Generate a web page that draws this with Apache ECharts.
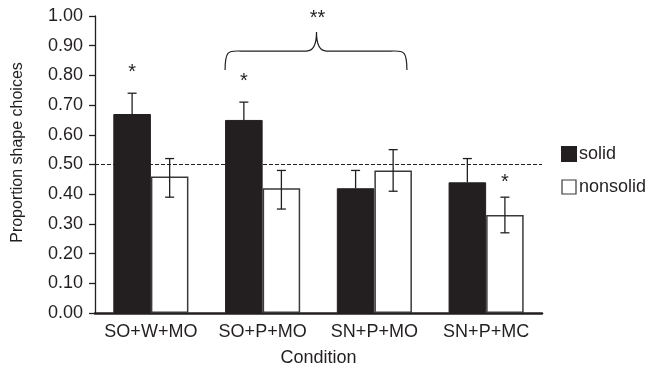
<!DOCTYPE html>
<html>
<head>
<meta charset="utf-8">
<script src="https://cdn.jsdelivr.net/npm/echarts@6/dist/echarts.min.js"></script>
<style>
  html, body { margin: 0; padding: 0; background: #fff; }
  #chart { width: 648px; height: 374px; }
</style>
</head>
<body>
<div id="chart"></div>
<script>
const conditions = ["SO+W+MO", "SO+P+MO", "SN+P+MO", "SN+P+MC"];
const solid = [0.67, 0.65, 0.42, 0.44];
const solidErrTop = [0.74, 0.71, 0.48, 0.52];
const nonsolid = [0.46, 0.42, 0.48, 0.33];
const nonsolidErrTop = [0.52, 0.48, 0.55, 0.39];
const nonsolidErrBottom = [0.39, 0.35, 0.41, 0.27];
const yTicks = [0, 0.1, 0.2, 0.3, 0.4, 0.5, 0.6, 0.7, 0.8, 0.9, 1.0];
const chanceLevel = 0.5;
// [category index, side (-1 solid, 1 nonsolid), y, text]
const stars = [[0, -1, 0.81, "*"], [1, -1, 0.78, "*"], [3, 1, 0.44, "*"]];
// brace from solid bar of SO+P+MO to nonsolid bar of SN+P+MO
const brace = { from: 1, to: 2, bottom: 0.818, top: 0.882, peak: 0.946, label: "**", labelY: 1.0 };

const ink = "#231f20";
const font = "Liberation Sans, Arial, sans-serif";
const barPct = 0.336;

const chart = echarts.init(document.getElementById("chart"), null, { renderer: "canvas" });

function errorBars(values, tops, bottoms, side) {
  return {
    type: "custom",
    silent: true,
    z: 5,
    data: values.map((v, i) => [i, v, tops[i], bottoms ? bottoms[i] : v]),
    renderItem: (params, api) => {
      const band = api.size([1, 0])[0];
      const x = api.coord([api.value(0), 0])[0] + side * band * barPct / 2;
      const yTop = api.coord([0, api.value(2)])[1];
      const yBot = api.coord([0, api.value(3)])[1];
      const cap = 4.5;
      const style = { stroke: ink, lineWidth: 1.3, fill: null };
      const children = [
        { type: "line", shape: { x1: x, y1: yTop, x2: x, y2: yBot }, style },
        { type: "line", shape: { x1: x - cap, y1: yTop, x2: x + cap, y2: yTop }, style },
      ];
      if (bottoms) {
        children.push({ type: "line", shape: { x1: x - cap, y1: yBot, x2: x + cap, y2: yBot }, style });
      }
      return { type: "group", children };
    },
  };
}

chart.setOption({
  animation: false,
  grid: { left: 95, right: 106, top: 16, bottom: 61 },
  legend: {
    orient: "vertical",
    left: 556,
    top: 140,
    itemWidth: 14,
    itemHeight: 14,
    itemGap: 15,
    textStyle: { fontFamily: font, fontSize: 18, color: ink, padding: [0, 0, 0, -2] },
    data: [
      { name: "solid", icon: "rect" },
      { name: "nonsolid", icon: "rect", itemStyle: { borderWidth: 1.2 } },
    ],
  },
  xAxis: {
    type: "category",
    data: conditions,
    name: "Condition",
    nameLocation: "middle",
    nameGap: 36,
    nameTextStyle: { fontFamily: font, fontSize: 18, color: ink },
    axisLine: { lineStyle: { color: ink, width: 2.5 } },
    axisTick: { alignWithLabel: true, length: 6, lineStyle: { color: ink, width: 1.3 } },
    axisLabel: { interval: 0, fontFamily: font, fontSize: 18, color: ink, margin: 10 },
  },
  yAxis: {
    type: "value",
    min: 0,
    max: 1,
    interval: 0.1,
    name: "Proportion shape choices",
    nameLocation: "middle",
    nameGap: 69,
    nameTextStyle: { fontFamily: font, fontSize: 16, color: ink, padding: [0, 0, 0, 24] },
    axisLine: { show: true, lineStyle: { color: ink, width: 1.3 } },
    axisTick: { show: true, length: 6, lineStyle: { color: ink, width: 1.3 } },
    axisLabel: {
      fontFamily: font,
      fontSize: 18,
      color: ink,
      margin: 12,
      formatter: (v) => (yTicks.some((t) => Math.abs(t - v) < 1e-6) ? v.toFixed(2) : ""),
    },
    splitLine: { show: false },
  },
  series: [
    {
      name: "solid",
      type: "bar",
      data: solid,
      barWidth: barPct * 100 + "%",
      barGap: "0%",
      itemStyle: { color: ink, borderColor: ink, borderWidth: 1 },
      markLine: {
        silent: true,
        symbol: "none",
        label: { show: false },
        lineStyle: { color: ink, type: [4, 2], width: 1 },
        data: [{ yAxis: chanceLevel }],
      },
    },
    {
      name: "nonsolid",
      type: "bar",
      data: nonsolid,
      barWidth: barPct * 100 + "%",
      barGap: "0%",
      itemStyle: { color: "#ffffff", borderColor: "#3a3a3a", borderWidth: 1.5 },
    },
    errorBars(solid, solidErrTop, null, -1),
    errorBars(nonsolid, nonsolidErrTop, nonsolidErrBottom, 1),
    {
      type: "custom",
      silent: true,
      z: 6,
      data: stars,
      renderItem: (params, api) => {
        const band = api.size([1, 0])[0];
        const s = stars[params.dataIndex];
        const p = api.coord([s[0], s[2]]);
        return {
          type: "text",
          style: {
            x: p[0] + s[1] * band * barPct / 2,
            y: p[1],
            text: s[3],
            font: "20px " + font,
            fill: ink,
            align: "center",
            verticalAlign: "middle",
          },
        };
      },
    },
    {
      type: "custom",
      silent: true,
      z: 6,
      data: [[brace.from, brace.to]],
      renderItem: (params, api) => {
        const band = api.size([1, 0])[0];
        const x1 = api.coord([brace.from, 0])[0] - band * barPct;
        const x2 = api.coord([brace.to, 0])[0] + band * barPct - 5;
        const xm = (api.coord([brace.from, 0])[0] + api.coord([brace.to, 0])[0]) / 2 - 2;
        const yb = api.coord([0, brace.bottom])[1];
        const yt = api.coord([0, brace.top])[1];
        const yp = api.coord([0, brace.peak])[1];
        const ly = api.coord([0, brace.labelY])[1];
        const r = 16;
        const path =
          `M${x1},${yb} C${x1},${yt - 2} ${x1 + 4},${yt} ${x1 + r},${yt} ` +
          `L${xm - 10},${yt} C${xm - 3},${yt} ${xm},${yt - 6} ${xm},${yp} ` +
          `C${xm},${yt - 6} ${xm + 3},${yt} ${xm + 10},${yt} ` +
          `L${x2 - r},${yt} C${x2 - 4},${yt} ${x2},${yt - 2} ${x2},${yb}`;
        return {
          type: "group",
          children: [
            { type: "path", shape: { pathData: path }, style: { stroke: ink, lineWidth: 1.2, fill: null } },
            {
              type: "text",
              style: {
                x: xm + 1, y: ly + 2, text: brace.label, font: "20px " + font,
                fill: ink, align: "center", verticalAlign: "middle",
              },
            },
          ],
        };
      },
    },
  ],
});
</script>
</body>
</html>
